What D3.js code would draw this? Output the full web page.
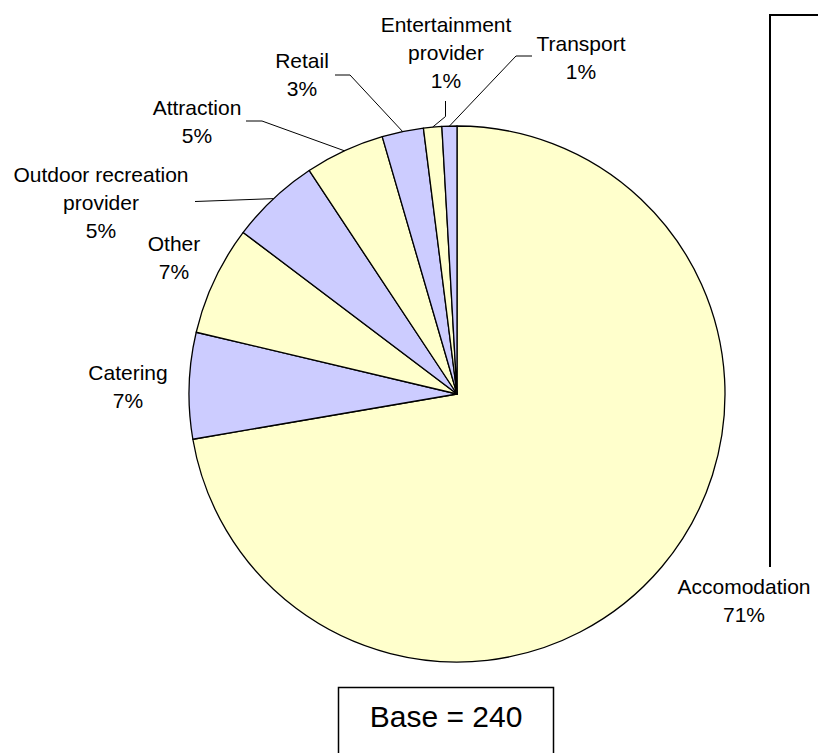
<!DOCTYPE html>
<html>
<head>
<meta charset="utf-8">
<script src="https://cdn.jsdelivr.net/npm/d3@7"></script>
<style>
  html, body { margin: 0; padding: 0; background: #ffffff; }
  svg { display: block; font-family: "Liberation Sans", Arial, sans-serif; }
</style>
</head>
<body>
<svg id="chart" width="818" height="753"></svg>
<script>
// ---- data ----
const categories = ["Accomodation", "Catering", "Other", "Outdoor recreation provider",
                    "Attraction", "Retail", "Entertainment provider", "Transport"];
const labelLines = [["Accomodation"], ["Catering"], ["Other"], ["Outdoor recreation", "provider"],
                    ["Attraction"], ["Retail"], ["Entertainment", "provider"], ["Transport"]];
const shares = [72.3, 6.4, 6.6, 5.4, 4.8, 2.5, 1.1, 0.9];
const percentLabels = ["71%", "7%", "7%", "5%", "5%", "3%", "1%", "1%"];
const baseText = "Base = 240";

// ---- layout (annotation positions, not data) ----
const cx = 457, cy = 394, R = 268;
const fontSize = 21, lineH = 28;
const colors = ["#FFFFCC", "#CCCCFF"];
// label anchor: x center, first baseline; leader elbow points (in order from label side)
const labelLayout = [
  { x: 744, y: 594, leader: [[770, 567], [770, 15], [830, 15]], toPie: false, lw: 2 },
  { x: 128, y: 380, leader: null },
  { x: 174, y: 251, leader: null },
  { x: 101, y: 182, leader: [[195, 201.5]], toPie: true },
  { x: 197, y: 115, leader: [[246, 121], [262, 121]], toPie: true },
  { x: 302, y: 68,  leader: [[335, 75], [350, 75]], toPie: true },
  { x: 446, y: 32,  leader: [[445.5, 101], [445.5, 116.5]], toPie: true },
  { x: 581, y: 51,  leader: [[532, 56], [516, 56]], toPie: true }
];

const svg = d3.select("#chart");
const g = svg.append("g").attr("transform", `translate(${cx},${cy})`);

const pie = d3.pie().sort(null).value(d => d).startAngle(0).endAngle(2 * Math.PI);
const arcs = pie(shares);
const arc = d3.arc().innerRadius(0).outerRadius(R);

g.selectAll("path.slice")
  .data(arcs)
  .enter().append("path")
  .attr("class", "slice")
  .attr("d", arc)
  .attr("fill", (d, i) => colors[i % 2])
  .attr("stroke", "#000")
  .attr("stroke-width", 1.3)
  .attr("stroke-linejoin", "round");

// leader lines
const line = d3.line();
arcs.forEach((a, i) => {
  const L = labelLayout[i];
  if (!L.leader) return;
  const pts = L.leader.map(p => [p[0], p[1]]);
  if (L.toPie) {
    const mid = (a.startAngle + a.endAngle) / 2;
    pts.push([cx + R * Math.sin(mid), cy - R * Math.cos(mid)]);
  }
  svg.append("path")
    .attr("d", line(pts))
    .attr("fill", "none")
    .attr("stroke", "#000")
    .attr("stroke-width", L.lw || 1);
});

// labels
categories.forEach((c, i) => {
  const L = labelLayout[i];
  const lines = labelLines[i].concat([percentLabels[i]]);
  const t = svg.append("text")
    .attr("text-anchor", "middle")
    .attr("font-size", fontSize)
    .attr("fill", "#000");
  lines.forEach((s, k) => {
    t.append("tspan").attr("x", L.x).attr("y", L.y + k * lineH).text(s);
  });
});

// base box
svg.append("rect")
  .attr("x", 338.5).attr("y", 687.5)
  .attr("width", 215).attr("height", 80)
  .attr("fill", "#fff").attr("stroke", "#000").attr("stroke-width", 1.5);
svg.append("text")
  .attr("x", 446).attr("y", 727)
  .attr("text-anchor", "middle")
  .attr("font-size", 30)
  .attr("fill", "#000")
  .text(baseText);
</script>
</body>
</html>
